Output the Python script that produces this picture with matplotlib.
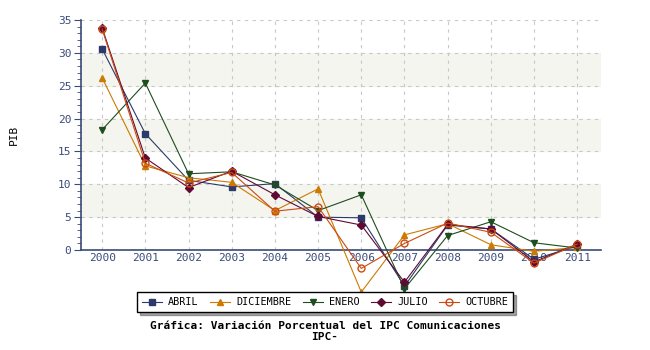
import numpy as np
import matplotlib.pyplot as plt

years = ['2000', '2001', '2002', '2003', '2004', '2005', '2006', '2007', '2008', '2009', '2010', '2011']
abril = [30.6, 17.7, 10.6, 9.6, 10.1, 5.0, 4.9, -5.5, 3.8, 3.2, -1.4, 0.6]
diciembre = [26.2, 12.8, 11.0, 10.3, 6.0, 9.3, -6.4, 2.3, 4.0, 0.8, -0.2, 0.4]
enero = [18.3, 25.4, 11.6, 11.9, 9.9, 6.0, 8.4, -5.9, 2.2, 4.3, 1.1, 0.3]
julio = [33.8, 14.0, 9.5, 12.0, 8.4, 5.1, 3.8, -4.9, 3.9, 3.2, -1.8, 0.9]
octubre = [33.6, 13.2, 10.2, 11.8, 5.9, 6.6, -2.8, 1.0, 4.1, 2.7, -2.0, 0.9]

navy = '#3b4a78'
plt.rcParams['font.family'] = 'DejaVu Sans Mono'

fig = plt.figure(figsize=(6.5, 3.5), dpi=100)
ax = fig.add_axes([0.1246, 0.2857, 0.80, 0.6572])
x = np.arange(len(years))

# bandas de fondo
for lo in (5, 15, 25):
    ax.axhspan(lo, lo + 5, color='#f5f5f0', zorder=0)

series = [
    (abril, 'ABRIL', '#2b3a6b', 's', True),
    (diciembre, 'DICIEMBRE', '#cc7a00', '^', True),
    (enero, 'ENERO', '#1e4d1e', 'v', True),
    (julio, 'JULIO', '#5e0a33', 'D', True),
    (octubre, 'OCTUBRE', '#cc4a10', 'o', False),
]
for vals, name, c, m, filled in series:
    ax.plot(x, vals, color=c, lw=0.8, marker=m, ms=5 if m != 'D' else 4,
            mfc=c if filled else 'none', mec=c, label=name, clip_on=False, zorder=3)

ax.set_xlim(-0.49, 11.55)
ax.set_ylim(0, 35)
ax.set_xticks(x)
ax.set_xticklabels(years)
ax.set_yticks(np.arange(0, 36, 5))
ax.set_yticks(np.arange(0, 36, 1), minor=True)
ax.grid(True, color='#c8c8c8', ls=(0, (3, 4)), lw=0.8)
for s in ('top', 'right'):
    ax.spines[s].set_visible(False)
for s in ('left', 'bottom'):
    ax.spines[s].set_color(navy)
    ax.spines[s].set_linewidth(1.2)
ax.tick_params(axis='both', colors=navy, labelsize=8, labelcolor=navy)
ax.tick_params(axis='x', length=0, pad=2)
ax.tick_params(axis='y', which='major', length=5, pad=2)
ax.tick_params(axis='y', which='minor', length=3, color=navy)
ax.set_ylabel('PIB', fontsize=8)
ax.yaxis.set_label_coords(-0.12, 0.5)

leg = fig.legend(loc='center', bbox_to_anchor=(0.5, 0.136), ncol=5, fontsize=7.3,
                 frameon=True, fancybox=False, shadow=True, edgecolor='black',
                 handlelength=2, columnspacing=1.1, handletextpad=0.6,
                 borderpad=0.5, borderaxespad=0)
leg.get_frame().set_linewidth(1)

fig.text(0.5, 0.054, 'Gráfica: Variación Porcentual del IPC Comunicaciones\nIPC-',
         ha='center', va='center', fontsize=8, fontweight='bold', linespacing=1.1)

fig.savefig('out.png', dpi=100)
